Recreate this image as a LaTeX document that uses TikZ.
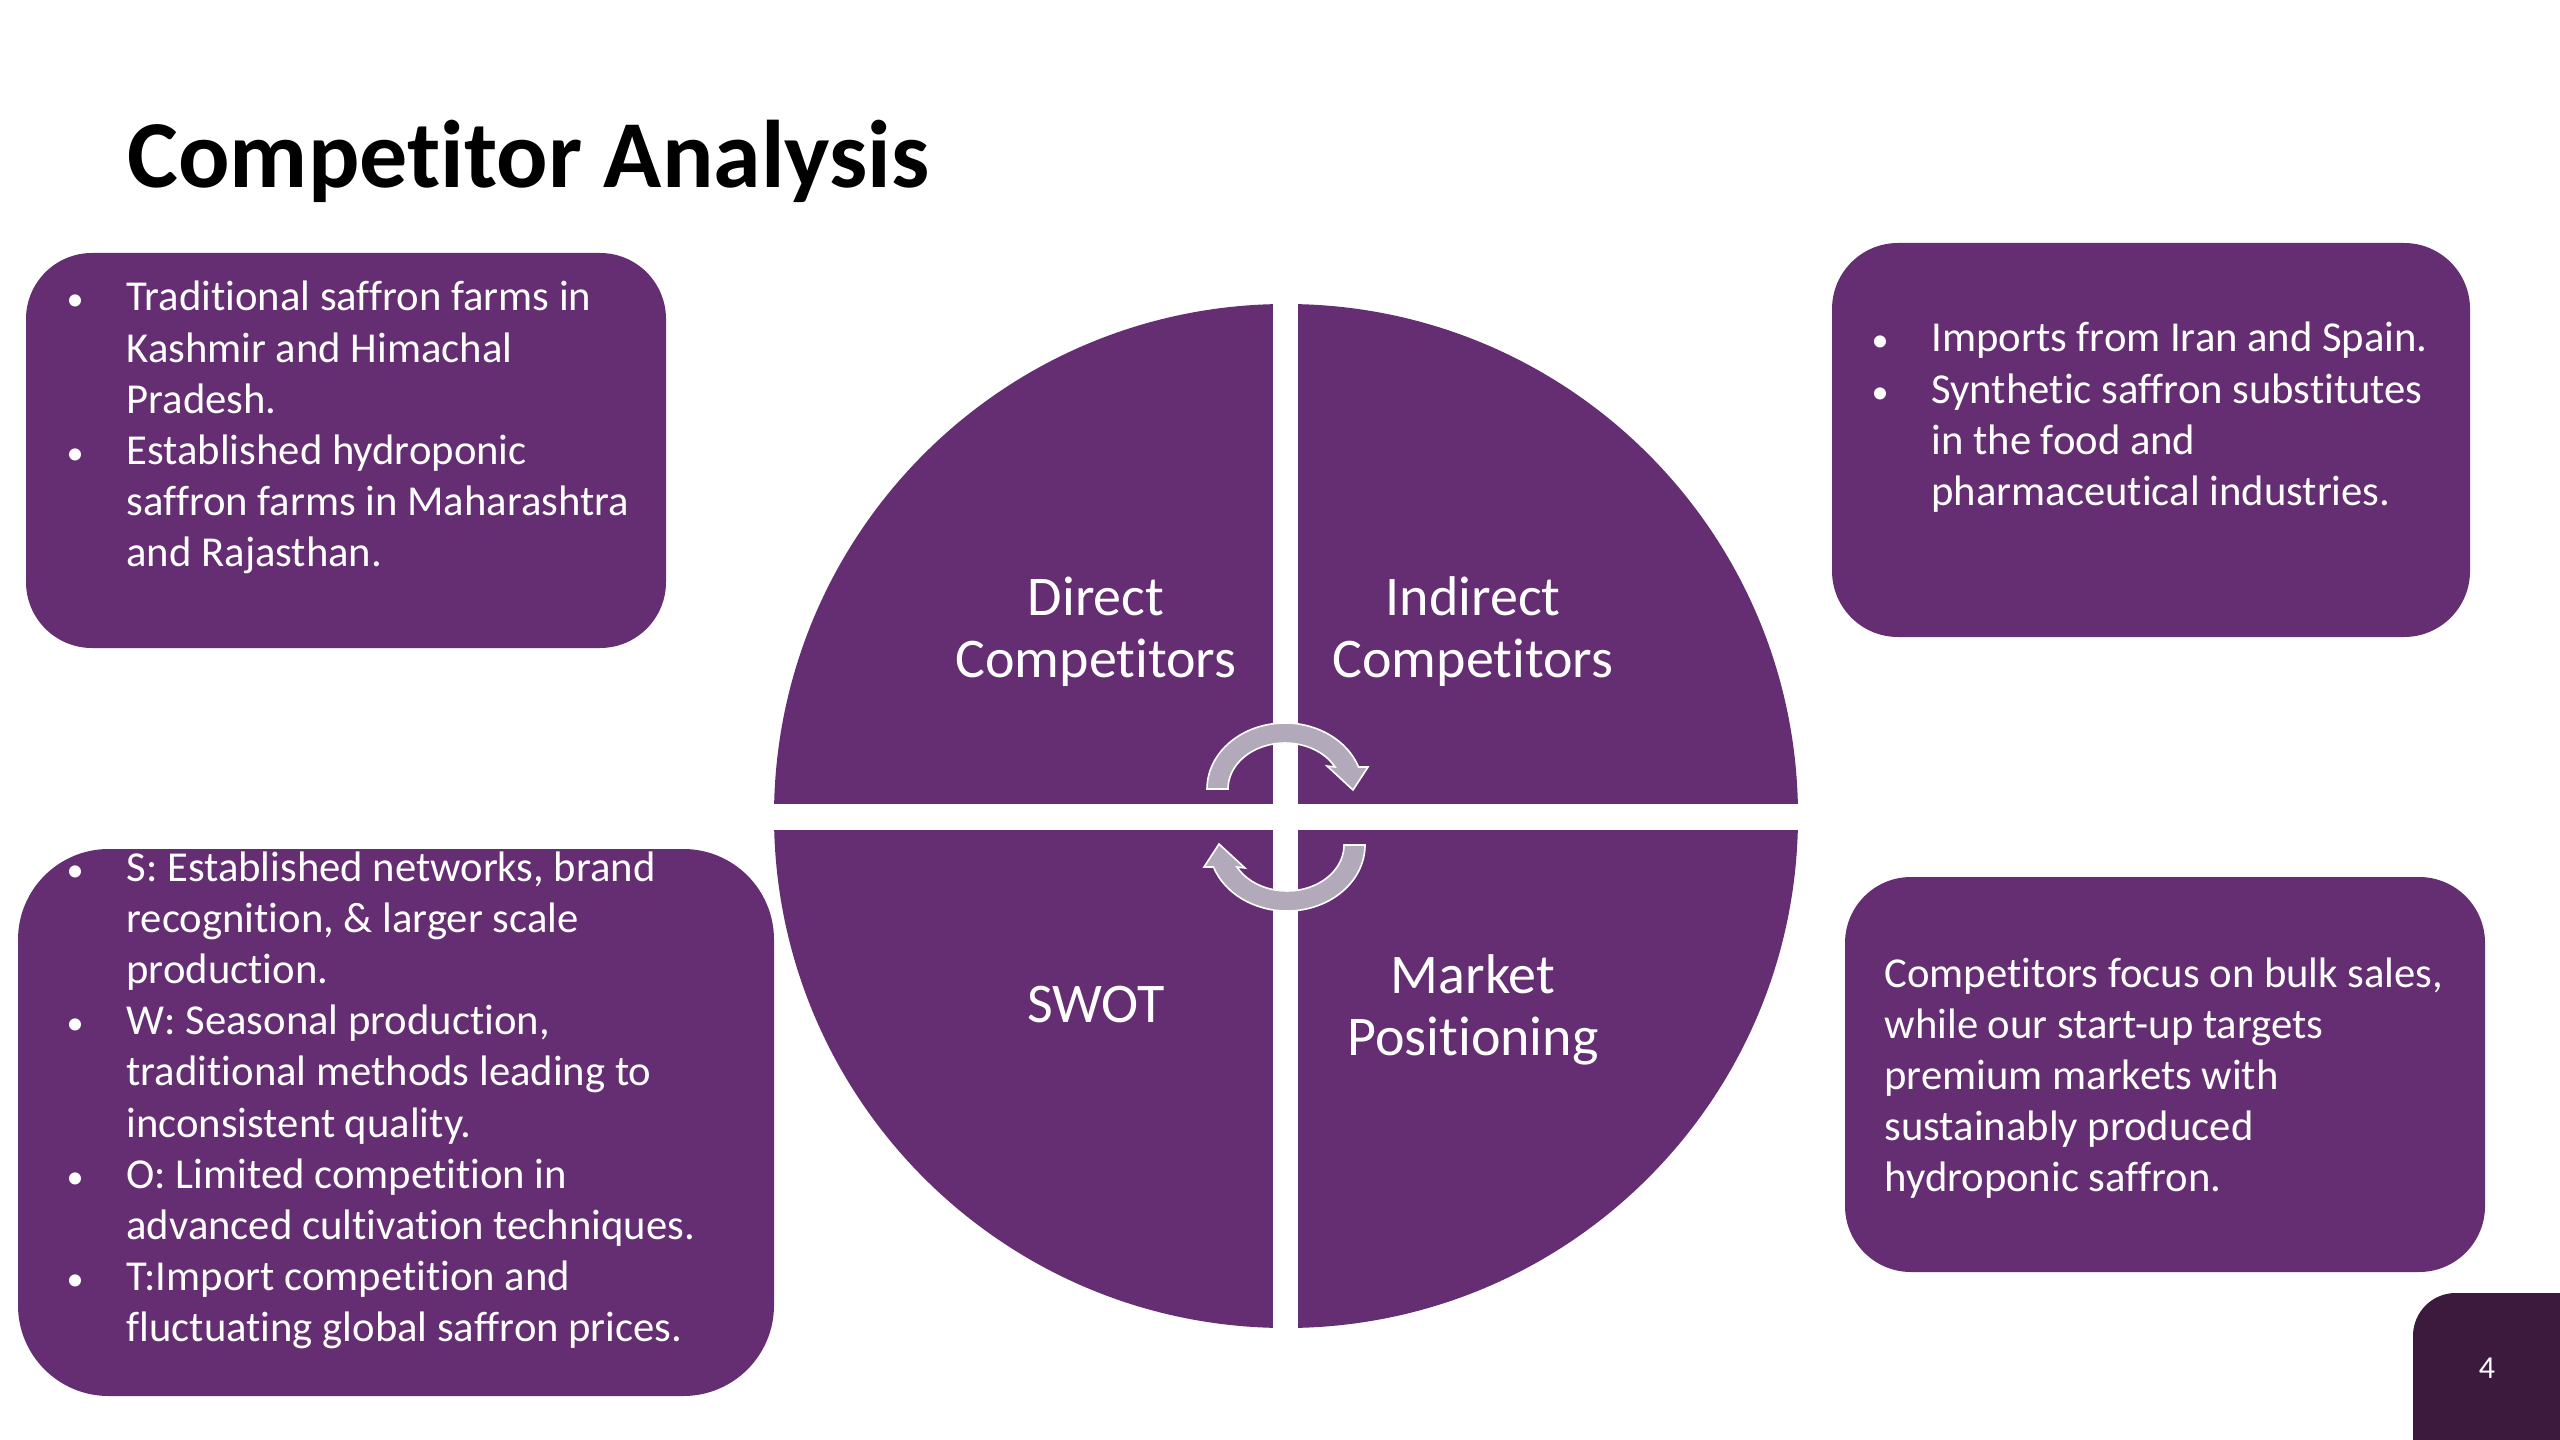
\documentclass[tikz,border=0pt]{standalone}
\usepackage{fontspec}
\setmainfont{Carlito}[Ligatures=NoCommon]

\definecolor{slidepurple}{RGB}{101,45,114}
\definecolor{pagepurple}{RGB}{59,26,61}
\definecolor{cyclegray}{RGB}{178,170,186}

\newcommand{\bul}{\scalebox{0.8}{\textbullet}}

\begin{document}
\begin{tikzpicture}[x=0.375pt,y=-0.375pt,
	panel/.style={fill=slidepurple, rounded corners=24.75pt},
	listtext/.style={text=white, inner sep=0pt, anchor=base west, font=\fontsize{16}{19.2}\selectfont},
	quarter/.style={text=white, align=center, font=\fontsize{21}{23.3}\selectfont},
	cyclearrow/.style={fill=cyclegray, draw=white, line width=0.6pt}]

	\useasboundingbox (0,0) rectangle (2560,1440);
	\fill[white] (0,0) rectangle (2560,1440);

	\node[anchor=base west, inner sep=0pt, font=\bfseries\fontsize{36}{43}\selectfont] (title) at (127,188) {Competitor Analysis};

	% the four quarters
	\fill[slidepurple] (1286,816) circle[radius=512];
	\fill[white] (1273,300) rectangle (1298,1335);
	\fill[white] (770,804) rectangle (1802,830);

	\node[quarter] (direct) at (1096,632) {Direct\\Competitors};
	\node[quarter] (indirect) at (1473,632) {Indirect\\Competitors};
	\node[quarter] (swot) at (1096,1005) {SWOT};
	\node[quarter] (market) at (1473,1010) {Market\\Positioning};

	% turning arrows in the middle
	\foreach \ang in {0,180}{
		\begin{scope}[shift={(1286,817)}, yscale=-1, rotate=\ang, shift={(-1,28)}]
			\filldraw[cyclearrow] (180:78 and 66) arc[start angle=180, end angle=19.5, x radius=78, y radius=66]
				-- (83,22) -- (68,-1) -- (42,23) -- (28.6:57 and 46)
				arc[start angle=28.6, end angle=180, x radius=57, y radius=46] -- cycle;
		\end{scope}
	}

	\fill[panel] (26,253) rectangle (666,648);
	\fill[panel] (1832,243) rectangle (2470,637);
	\fill[panel, rounded corners=34pt] (18,849) rectangle (774,1396);
	\fill[panel] (1845,877) rectangle (2485,1272);

	\node[listtext] (direct list) at (66,311) {\begin{tabular}[t]{@{}p{22.5pt}@{}l@{}}
		\bul & Traditional saffron farms in\\
		& Kashmir and Himachal\\
		& Pradesh.\\
		\bul & Established hydroponic\\
		& saffron farms in Maharashtra\\
		& and Rajasthan.
	\end{tabular}};

	\node[listtext] (indirect list) at (1871,352) {\begin{tabular}[t]{@{}p{22.5pt}@{}l@{}}
		\bul & Imports from Iran and Spain.\\
		\bul & Synthetic saffron substitutes\\
		& in the food and\\
		& pharmaceutical industries.
	\end{tabular}};

	\node[listtext] (swot list) at (66,881) {\begin{tabular}[t]{@{}p{22.5pt}@{}l@{}}
		\bul & S: Established networks, brand\\
		& recognition, \& larger scale\\
		& production.\\
		\bul & W: Seasonal production,\\
		& traditional methods leading to\\
		& inconsistent quality.\\
		\bul & O: Limited competition in\\
		& advanced cultivation techniques.\\
		\bul & T:Import competition and\\
		& fluctuating global saffron prices.
	\end{tabular}};

	\node[listtext] (market text) at (1884,987) {\begin{tabular}[t]{@{}l@{}}
		Competitors focus on bulk sales,\\
		while our start-up targets\\
		premium markets with\\
		sustainably produced\\
		hydroponic saffron.
	\end{tabular}};

	% slide number
	\fill[pagepurple, rounded corners=16pt] (2413,1293) rectangle (2700,1600);
	\node[text=white, font=\fontsize{12}{14}\selectfont] (page) at (2487,1368) {4};
\end{tikzpicture}
\end{document}
